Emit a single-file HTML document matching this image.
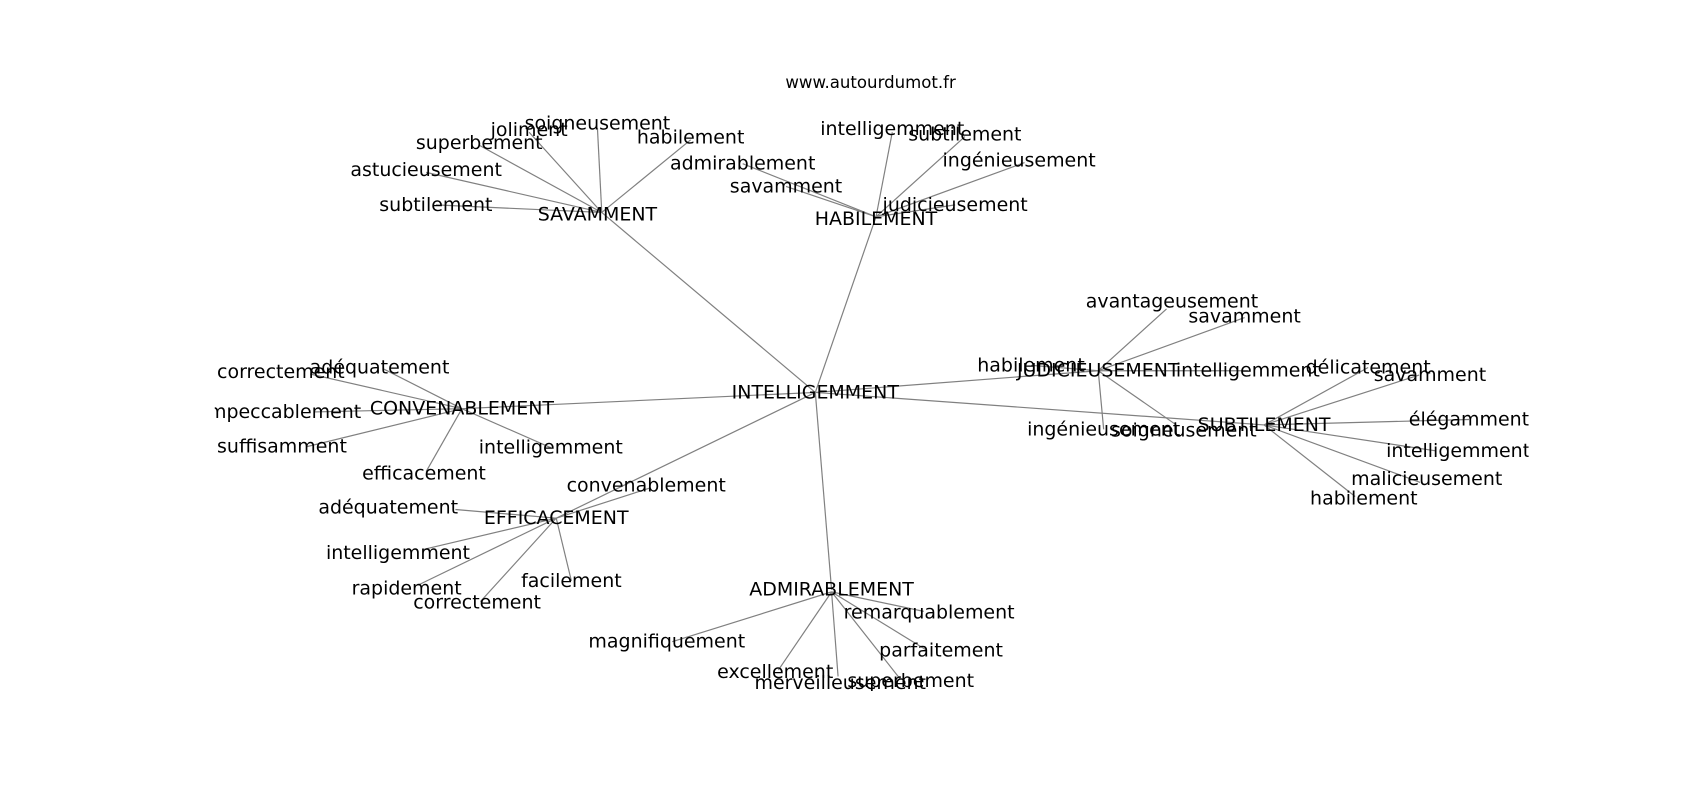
<!DOCTYPE html>
<html><head><meta charset="utf-8"><style>
html,body{margin:0;padding:0;background:#fff;}
svg{display:block;}
text{font-family:"DejaVu Sans","Liberation Sans",sans-serif;font-size:17.5px;fill:#000;text-anchor:middle;dominant-baseline:central;}
line{stroke:#808080;stroke-width:1.1;}
</style></head><body>
<svg width="1700" height="800" viewBox="0 0 1568 738" xmlns="http://www.w3.org/2000/svg">
<defs><clipPath id="c"><rect x="198" y="0" width="1212" height="738"/></clipPath></defs>
<text x="803" y="76" style="font-size:15.3px">www.autourdumot.fr</text>
<g clip-path="url(#c)">
<g>
<line x1="752" y1="362" x2="555" y2="196"/>
<line x1="752" y1="362" x2="808" y2="200"/>
<line x1="752" y1="362" x2="1013" y2="342"/>
<line x1="752" y1="362" x2="1166" y2="392"/>
<line x1="752" y1="362" x2="426" y2="377"/>
<line x1="752" y1="362" x2="513" y2="478"/>
<line x1="752" y1="362" x2="767" y2="544"/>
<line x1="555" y1="196" x2="551" y2="118"/>
<line x1="555" y1="196" x2="488" y2="122"/>
<line x1="555" y1="196" x2="442" y2="134"/>
<line x1="555" y1="196" x2="637" y2="129"/>
<line x1="555" y1="196" x2="393" y2="159"/>
<line x1="555" y1="196" x2="402" y2="189"/>
<line x1="808" y1="200" x2="823" y2="122"/>
<line x1="808" y1="200" x2="890" y2="126"/>
<line x1="808" y1="200" x2="945" y2="150"/>
<line x1="808" y1="200" x2="685" y2="151"/>
<line x1="808" y1="200" x2="725" y2="172"/>
<line x1="808" y1="200" x2="881" y2="189"/>
<line x1="1013" y1="342" x2="1076" y2="285"/>
<line x1="1013" y1="342" x2="1148" y2="293"/>
<line x1="1013" y1="342" x2="951" y2="337"/>
<line x1="1013" y1="342" x2="1151" y2="342"/>
<line x1="1013" y1="342" x2="1018" y2="396"/>
<line x1="1013" y1="342" x2="1085" y2="392"/>
<line x1="1166" y1="392" x2="1262" y2="339"/>
<line x1="1166" y1="392" x2="1309" y2="346"/>
<line x1="1166" y1="392" x2="1355" y2="387"/>
<line x1="1166" y1="392" x2="1325" y2="416"/>
<line x1="1166" y1="392" x2="1310" y2="445"/>
<line x1="1166" y1="392" x2="1250" y2="458"/>
<line x1="426" y1="377" x2="286" y2="345"/>
<line x1="426" y1="377" x2="353" y2="340"/>
<line x1="426" y1="377" x2="290" y2="380"/>
<line x1="426" y1="377" x2="283" y2="412"/>
<line x1="426" y1="377" x2="393" y2="435"/>
<line x1="426" y1="377" x2="508" y2="413"/>
<line x1="513" y1="478" x2="600" y2="450"/>
<line x1="513" y1="478" x2="420" y2="470"/>
<line x1="513" y1="478" x2="390" y2="507"/>
<line x1="513" y1="478" x2="385" y2="540"/>
<line x1="513" y1="478" x2="443" y2="555"/>
<line x1="513" y1="478" x2="527" y2="536"/>
<line x1="767" y1="546" x2="852" y2="564"/>
<line x1="767" y1="546" x2="620" y2="592"/>
<line x1="767" y1="546" x2="855" y2="600"/>
<line x1="767" y1="546" x2="718" y2="618"/>
<line x1="767" y1="546" x2="773" y2="624"/>
<line x1="767" y1="546" x2="830" y2="626"/>
</g>
<g>
<text x="752" y="362">INTELLIGEMMENT</text>
<text x="551" y="198">SAVAMMENT</text>
<text x="551" y="114">soigneusement</text>
<text x="488" y="120">joliment</text>
<text x="442" y="132">superbement</text>
<text x="637" y="127">habilement</text>
<text x="393" y="157">astucieusement</text>
<text x="402" y="189">subtilement</text>
<text x="808" y="202">HABILEMENT</text>
<text x="823" y="119">intelligemment</text>
<text x="890" y="124">subtilement</text>
<text x="940" y="148">ingénieusement</text>
<text x="685" y="151">admirablement</text>
<text x="725" y="172">savamment</text>
<text x="881" y="189">judicieusement</text>
<text x="1013" y="342">JUDICIEUSEMENT</text>
<text x="1081" y="278">avantageusement</text>
<text x="1148" y="292">savamment</text>
<text x="951" y="337">habilement</text>
<text x="1151" y="342">intelligemment</text>
<text x="1018" y="396">ingénieusement</text>
<text x="1092" y="397">soigneusement</text>
<text x="1166" y="392">SUBTILEMENT</text>
<text x="1262" y="339">délicatement</text>
<text x="1319" y="346">savamment</text>
<text x="1355" y="387">élégamment</text>
<text x="1345" y="416">intelligemment</text>
<text x="1316" y="442">malicieusement</text>
<text x="1258" y="460">habilement</text>
<text x="426" y="377">CONVENABLEMENT</text>
<text x="259" y="343">correctement</text>
<text x="350" y="339">adéquatement</text>
<text x="260" y="380">impeccablement</text>
<text x="260" y="412">suffisamment</text>
<text x="391" y="437">efficacement</text>
<text x="508" y="413">intelligemment</text>
<text x="513" y="478">EFFICACEMENT</text>
<text x="596" y="448">convenablement</text>
<text x="358" y="468">adéquatement</text>
<text x="367" y="510">intelligemment</text>
<text x="375" y="543">rapidement</text>
<text x="440" y="556">correctement</text>
<text x="527" y="536">facilement</text>
<text x="767" y="544">ADMIRABLEMENT</text>
<text x="857" y="565">remarquablement</text>
<text x="615" y="592">magnifiquement</text>
<text x="868" y="600">parfaitement</text>
<text x="715" y="620">excellement</text>
<text x="775" y="630">merveilleusement</text>
<text x="840" y="628">superbement</text>
</g>
</g>
</svg>
</body></html>
